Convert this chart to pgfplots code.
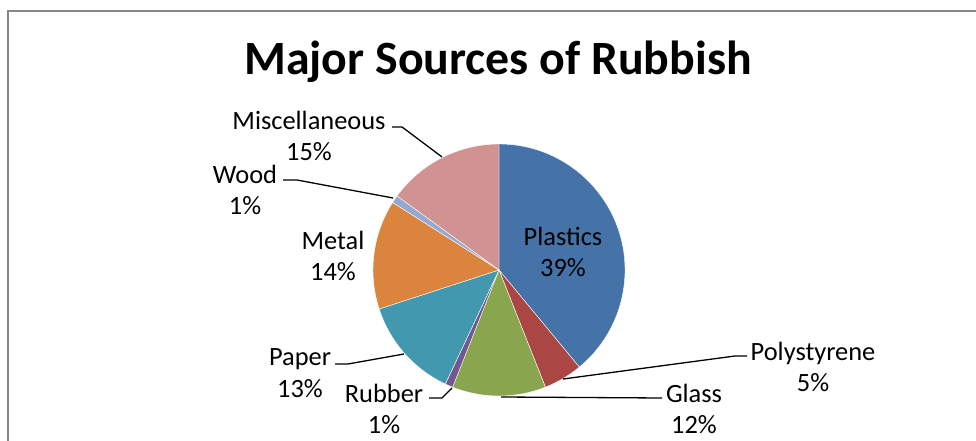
\documentclass[border=0pt]{standalone}
\usepackage{pgfplots}
\usepackage{pgfplotstable}
\pgfplotsset{compat=1.18}
\usepackage{fontspec}
\setmainfont{Carlito}

\definecolor{cPlastics}{HTML}{4572A7}
\definecolor{cPoly}{HTML}{AA4643}
\definecolor{cGlass}{HTML}{89A54E}
\definecolor{cRubber}{HTML}{71588F}
\definecolor{cPaper}{HTML}{4198AF}
\definecolor{cMetal}{HTML}{DB843D}
\definecolor{cWood}{HTML}{93A9CF}
\definecolor{cMisc}{HTML}{D19392}
\definecolor{frame}{HTML}{868686}

% share of rubbish in percent, clockwise from 12 o'clock
\pgfplotstableread[col sep=comma]{
name,value,col
Plastics,39,cPlastics
Polystyrene,5,cPoly
Glass,12,cGlass
Rubber,1,cRubber
Paper,13,cPaper
Metal,14,cMetal
Wood,1,cWood
Miscellaneous,15,cMisc
}\rubbish

\newcommand\lbl{\fontsize{26.5}{31.5}\selectfont}

\begin{document}
\begin{tikzpicture}
\useasboundingbox (0,0) rectangle (976bp,441bp);
\begin{axis}[
    at={(0,0)}, anchor=south west,
    width=976bp, height=441bp, scale only axis,
    xmin=0, xmax=976, ymin=0, ymax=441,
    hide axis, clip=false,
]
% chart frame
\draw[frame, line width=2bp] (axis cs:7.5,-20) -- (axis cs:7.5,430) -- (axis cs:1000,430);

% slices
\pgfplotstablegetrowsof{\rubbish}
\pgfmathtruncatemacro\nrows{\pgfplotsretval-1}
\def\cum{0}
\pgfplotsforeachungrouped \i in {0,...,\nrows}{
  \pgfplotstablegetelem{\i}{value}\of\rubbish \let\v\pgfplotsretval
  \pgfplotstablegetelem{\i}{col}\of\rubbish \let\c\pgfplotsretval
  \pgfmathsetmacro\sa{90-3.6*\cum}
  \pgfmathsetmacro\ea{90-3.6*(\cum+\v)}
  \pgfmathsetmacro\cum{\cum+\v}
  \edef\slice{\noexpand\fill[\c, draw=white, line width=0.4bp] (axis cs:499,171) -- +(\sa:126bp) arc[start angle=\sa, end angle=\ea, radius=126bp] -- cycle;}
  \slice
}

% title
\node[font=\fontsize{48}{56}\selectfont\bfseries] at (axis cs:498,379) {Major Sources of Rubbish};

% leader lines
\draw[black, line width=1.3bp] (axis cs:442,284) -- (axis cs:402,314) -- (axis cs:392,314);
\draw[black, line width=1.3bp] (axis cs:393,243) -- (axis cs:297,261) -- (axis cs:283,261);
\draw[black, line width=1.3bp] (axis cs:404,87) -- (axis cs:348,77) -- (axis cs:335,77);
\draw[black, line width=1.3bp] (axis cs:452,53) -- (axis cs:442,43) -- (axis cs:429,43);
\draw[black, line width=1.3bp] (axis cs:501,44) -- (axis cs:662,43);
\draw[black, line width=1.3bp] (axis cs:563,62) -- (axis cs:735,85) -- (axis cs:747,85);

% labels
\node[align=center, font=\lbl] at (axis cs:563,189) {Plastics\\39\%};
\node[align=center, font=\lbl] at (axis cs:813,74) {Polystyrene\\5\%};
\node[align=center, font=\lbl] at (axis cs:694,32) {Glass\\12\%};
\node[align=center, font=\lbl] at (axis cs:384,32) {Rubber\\1\%};
\node[align=center, font=\lbl] at (axis cs:300,68) {Paper\\13\%};
\node[align=center, font=\lbl] at (axis cs:333,185) {Metal\\14\%};
\node[align=center, font=\lbl] at (axis cs:245,251) {Wood\\1\%};
\node[align=center, font=\lbl] at (axis cs:309,305) {Miscellaneous\\15\%};
\end{axis}
\end{tikzpicture}
\end{document}
